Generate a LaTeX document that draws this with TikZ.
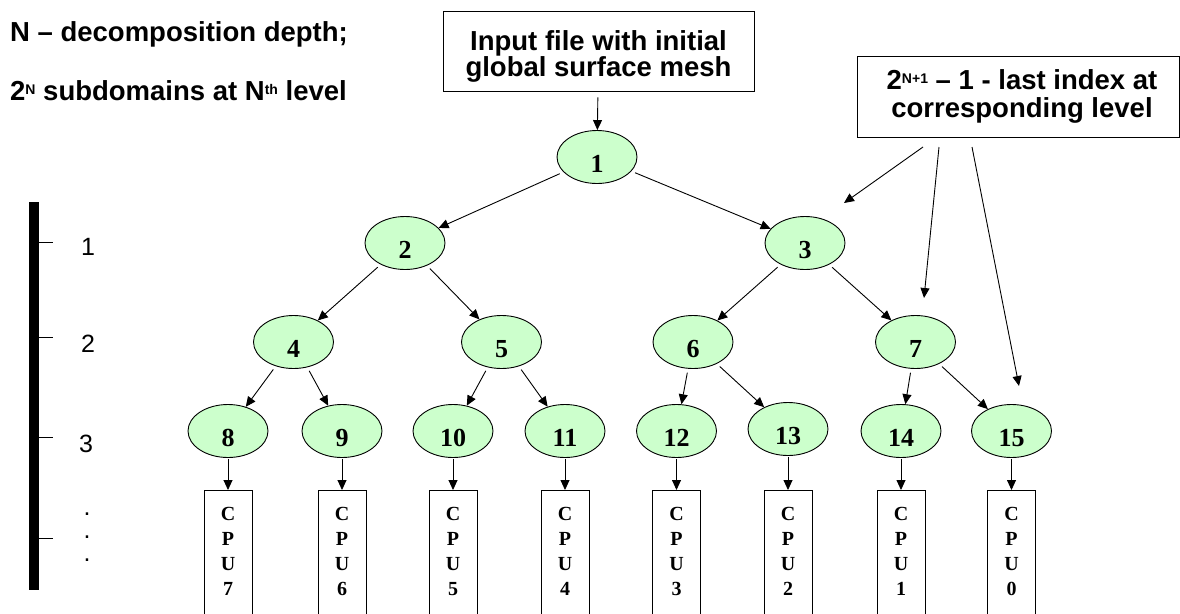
\documentclass[tikz,border=0pt]{standalone}
\usepackage{fontspec}
\setmainfont{Liberation Serif}
\newfontfamily\arialfont{Liberation Sans}
\usetikzlibrary{arrows.meta,shapes.geometric}

\definecolor{domgreen}{RGB}{204,255,204}
% raised small text for exponents
\newcommand{\supx}[1]{{\fontsize{14}{14}\selectfont\raisebox{5.5pt}{#1}}}

\tikzset{
  arr/.style={-{Triangle[length=10pt,width=9pt]}, line width=0.9pt},
  dom/.style={ellipse, draw, line width=0.9pt, fill=domgreen,
    minimum width=80pt, minimum height=53pt, inner sep=0pt,
    font=\fontsize{26}{26}\selectfont\bfseries,
    text height=31pt, text depth=0pt},
  cpubox/.style={draw, line width=0.9pt, minimum width=48pt,
    minimum height=150pt, anchor=north, inner sep=0pt},
  cputext/.style={align=center, anchor=base, inner sep=0pt,
    font=\fontsize{20}{25}\selectfont\bfseries},
  framebox/.style={draw, line width=0.9pt, inner sep=0pt},
  labeltext/.style={inner sep=0pt, align=center, anchor=base,
    font=\arialfont\bfseries\fontsize{27.5}{26}\selectfont},
  leveltext/.style={inner sep=0pt, anchor=base,
    font=\arialfont\fontsize{25}{23}\selectfont},
  tick/.style={line width=1pt},
}

\begin{document}
\begin{tikzpicture}[x=1pt,y=-1pt]
\useasboundingbox (0,0) rectangle (1180,613);

% legend texts
\node[labeltext, anchor=base west] (legend1) at (10,41) {N – decomposition depth;};
\node[labeltext, anchor=base west] (legend2) at (10,100)
  {2\supx{N} subdomains at N\supx{th} level};

% depth scale
\fill (29,202) rectangle (39,590);
\foreach \yy in {242,337,437,538} \draw[tick] (39,\yy) -- (53,\yy);
\node[leveltext] (lev1) at (88,255) {1};
\node[leveltext] (lev2) at (88,352) {2};
\node[leveltext] (lev3) at (86,452) {3};
% multi-line nodes: the base anchor sits on the last line
\node[leveltext, align=center] (levdots) at (87,561) {.\\.\\.};

% input file box
\node[framebox, minimum width=311pt, minimum height=80pt] (input) at (598.5,51) {};
\node[labeltext] (inputtext) at (598.5,76) {Input file with initial\\global surface mesh};

% index note box
\node[framebox, minimum width=322pt, minimum height=81pt] (note) at (1018,96.5) {};
\node[labeltext, font=\arialfont\bfseries\fontsize{27.5}{28}\selectfont] (notetext) at (1022,117)
  {2\supx{N+1} – 1 - last index at\\corresponding level};

% subdomain tree
\node[dom] (d1) at (597,157) {1};
\node[dom] (d2) at (405,243) {2};
\node[dom] (d3) at (805,243) {3};
\node[dom] (d4) at (293.5,342) {4};
\node[dom] (d5) at (501.5,342) {5};
\node[dom] (d6) at (693,342) {6};
\node[dom] (d7) at (915.5,342) {7};
\node[dom] (d8) at (228,431) {8};
\node[dom] (d9) at (342,431) {9};
\node[dom] (d10) at (453,431) {10};
\node[dom] (d11) at (565,431) {11};
\node[dom] (d12) at (676.5,431) {12};
\node[dom] (d13) at (788,429) {13};
\node[dom] (d14) at (901,431) {14};
\node[dom] (d15) at (1011.5,431) {15};

\draw[arr, shorten <=6pt] (input) -- (d1);
\foreach \p/\a/\b in {1/2/3, 2/4/5, 3/6/7, 4/8/9, 5/10/11, 6/12/13, 7/14/15} {
  \draw[arr, shorten <=4pt] (d\p) -- (d\a);
  \draw[arr, shorten <=4pt] (d\p) -- (d\b);
}

% processors
\foreach \n/\x/\c in {8/228/7, 9/342/6, 10/453/5, 11/565/4, 12/676.5/3, 13/788/2, 14/901/1, 15/1011.5/0} {
  \node[cpubox] (cpu\n) at (\x,490) {};
  \node[cputext] (cputext\n) at (\x,595) {C\\P\\U\\\c};
  \draw[arr, shorten <=1pt] (d\n) -- (cpu\n);
}

% pointers from the index note
\coordinate (noteA) at (923,147);
\coordinate (noteB) at (939,147);
\coordinate (noteC) at (972,147);
\coordinate (toLev1) at (844,203);
\coordinate (toLev2) at (924,298);
\coordinate (toLev3) at (1019,386);
\draw[arr] (noteA) -- (toLev1);
\draw[arr] (noteB) -- (toLev2);
\draw[arr] (noteC) -- (toLev3);
\end{tikzpicture}
\end{document}
